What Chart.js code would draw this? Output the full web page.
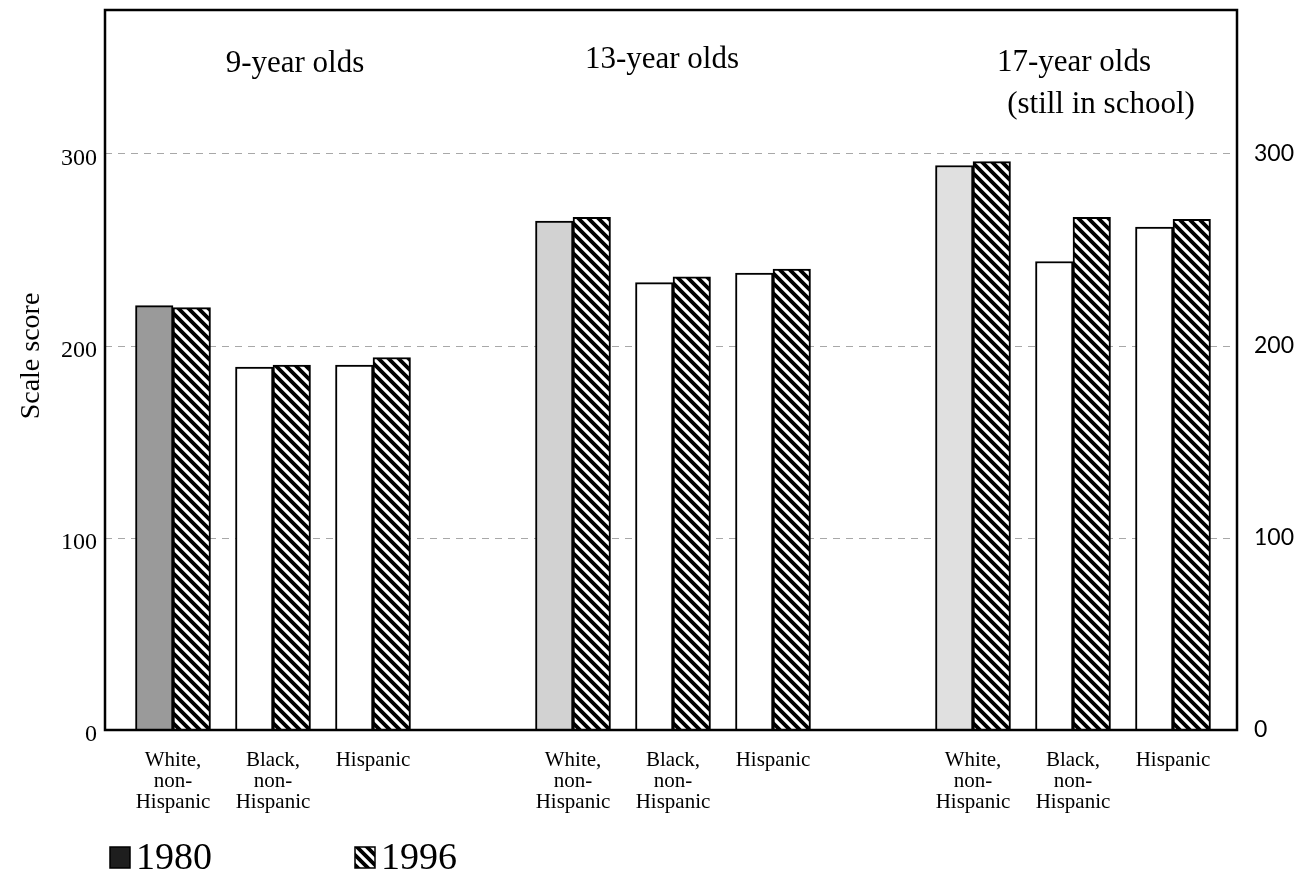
<!DOCTYPE html>
<html><head><meta charset="utf-8">
<script src="https://cdn.jsdelivr.net/npm/chart.js@4.4.0/dist/chart.umd.min.js"></script>
<style>html,body{margin:0;padding:0;background:#fff;overflow:hidden}#wrap{width:1309px;height:871px;position:relative}</style>
</head><body><div id="wrap"><canvas id="c" width="1309" height="871"></canvas></div>
<script>
// ---- data ----
const categories = [
  ['White,', 'non-', 'Hispanic'], ['Black,', 'non-', 'Hispanic'], ['Hispanic'],
  ['White,', 'non-', 'Hispanic'], ['Black,', 'non-', 'Hispanic'], ['Hispanic'],
  ['White,', 'non-', 'Hispanic'], ['Black,', 'non-', 'Hispanic'], ['Hispanic']
];
const positions = [1, 2, 3, 5, 6, 7, 9, 10, 11];
const scores1980 = [221, 189, 190, 265, 233, 238, 294, 244, 262];
const scores1996 = [220, 190, 194, 267, 236, 240, 296, 267, 266];
const seriesLabels = ['1980', '1996'];
const ageGroups = [['9-year olds'], ['13-year olds'], ['17-year olds', '(still in school)']];
const yTicks = [0, 100, 200, 300];
const yTitle = 'Scale score';

// ---- styles ----
const FONT = "'Liberation Serif', 'DejaVu Serif', serif";
const SANS = "Lato, 'Open Sans', sans-serif";
const fill1980 = ['#9a9a9a', '#ffffff', '#ffffff', '#d2d2d2', '#ffffff', '#ffffff', '#e0e0e0', '#ffffff', '#ffffff'];

function hatchPattern() {
  const c = document.createElement('canvas');
  c.width = 10; c.height = 10;
  const g = c.getContext('2d');
  g.fillStyle = '#fff'; g.fillRect(0, 0, 10, 10);
  g.strokeStyle = '#000'; g.lineWidth = 3.8;
  g.beginPath();
  g.moveTo(-5, -5); g.lineTo(15, 15);
  g.moveTo(-5, 5); g.lineTo(5, 15);
  g.moveTo(5, -5); g.lineTo(15, 5);
  g.stroke();
  return g.createPattern(c, 'repeat');
}
const hatch = hatchPattern();

const decor = {
  id: 'decor',
  afterDraw(chart) {
    const {ctx, chartArea: a} = chart;
    ctx.save();
    // frame
    ctx.strokeStyle = '#000'; ctx.lineWidth = 2.5;
    ctx.strokeRect(a.left, a.top, a.right - a.left, a.bottom - a.top);
    // group titles
    ctx.fillStyle = '#000';
    ctx.textAlign = 'center'; ctx.textBaseline = 'alphabetic';
    ctx.font = '31px ' + FONT;
    const tpos = [[295, [72]], [662, [68]], [1074, [71, 113]]];
    ageGroups.forEach((lines, i) => {
      lines.forEach((t, j) => {
        const x = (j === 1) ? tpos[i][0] + 27 : tpos[i][0];
        ctx.fillText(t, x, tpos[i][1][j]);
      });
    });
    // y title
    ctx.save();
    ctx.translate(32, 356); ctx.rotate(-Math.PI / 2);
    ctx.font = '28px ' + FONT; ctx.textBaseline = 'middle';
    ctx.fillText(yTitle, 0, 0);
    ctx.restore();
    // legend
    const items = [[110, '#1e1e1e'], [355, hatch]];
    ctx.textAlign = 'left'; ctx.font = '38px ' + FONT;
    items.forEach(([x, f], i) => {
      ctx.fillStyle = f;
      ctx.fillRect(x, 847, 20, 21);
      ctx.strokeStyle = '#000'; ctx.lineWidth = 1.5;
      ctx.strokeRect(x, 847, 20, 21);
      ctx.fillStyle = '#000';
      ctx.fillText(seriesLabels[i], x + 26, 869);
    });
    ctx.restore();
  }
};

new Chart(document.getElementById('c'), {
  type: 'bar',
  data: {
    datasets: [
      { label: seriesLabels[0], data: positions.map((p, i) => ({x: p, y: scores1980[i]})),
        backgroundColor: fill1980, borderColor: '#000', borderWidth: 2, borderSkipped: 'bottom', barThickness: 37.5 },
      { label: seriesLabels[1], data: positions.map((p, i) => ({x: p, y: scores1996[i]})),
        backgroundColor: hatch, borderColor: '#000', borderWidth: 2, borderSkipped: 'bottom', barThickness: 37.5 }
    ]
  },
  options: {
    responsive: false, animation: false, devicePixelRatio: 1,
    layout: {padding: {top: 10, left: 0, right: 0, bottom: 0}},
    plugins: {legend: {display: false}, tooltip: {enabled: false}},
    scales: {
      x: {
        type: 'linear', min: 0.32, max: 11.64, offset: false,
        grid: {display: false}, border: {display: false},
        afterBuildTicks: s => { s.ticks = positions.map(v => ({value: v})); },
        afterFit: s => { s.height = 141; s.paddingLeft = 0; s.paddingRight = 0; },
        ticks: {
          autoSkip: false, maxRotation: 0, minRotation: 0, padding: 12, color: '#000',
          font: {family: FONT, size: 21, lineHeight: 1.0},
          callback: v => { const i = positions.indexOf(v); return i >= 0 ? categories[i] : ''; }
        }
      },
      y: {
        position: 'left', min: 0, max: 375,
        afterBuildTicks: s => { s.ticks = yTicks.map(v => ({value: v})); },
        afterFit: s => { s.width = 105; s.paddingTop = 0; s.paddingBottom = 0; },
        ticks: {padding: 8, labelOffset: 5, color: '#000', font: {family: FONT, size: 24}},
        grid: {color: '#a8a8a8', lineWidth: 1, drawTicks: false},
        border: {display: false, dash: [7, 6]}
      },
      y2: {
        position: 'right', min: 0, max: 375,
        afterBuildTicks: s => { s.ticks = yTicks.map(v => ({value: v})); },
        afterFit: s => { s.width = 72; s.paddingTop = 0; s.paddingBottom = 0; },
        ticks: {padding: 17, color: '#000', font: {family: SANS, size: 23}},
        grid: {display: false, drawTicks: false},
        border: {display: false}
      }
    }
  },
  plugins: [decor]
});
</script></body></html>
